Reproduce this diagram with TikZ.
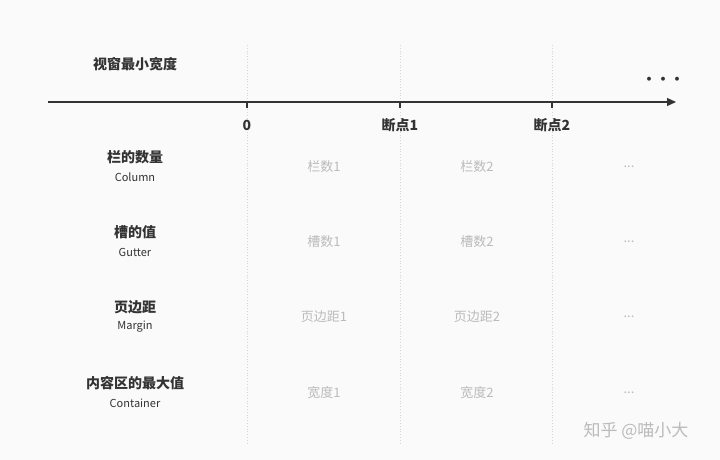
\documentclass[tikz,border=0pt]{standalone}
\usepackage{fontspec}
\setmainfont{Noto Sans CJK SC}
\usetikzlibrary{arrows.meta}
\definecolor{bg}{HTML}{FAFAFA}
\definecolor{ink}{HTML}{333333}
\definecolor{faint}{HTML}{BBBBBB}
\definecolor{grid}{HTML}{D6D6D6}
\begin{document}
\begin{tikzpicture}[x=1pt,y=-1pt,
    head/.style={font=\fontsize{14}{16}\selectfont\bfseries, text=ink},
    sub/.style={font=\fontsize{11}{13}\selectfont, text=ink},
    cell/.style={font=\fontsize{13}{15}\selectfont, text=faint},
    brk/.style={font=\fontsize{14}{16}\selectfont\bfseries, text=ink}]
  \fill[bg] (0,0) rectangle (720,460);
  \useasboundingbox (0,0) rectangle (720,460);
  % vertical guides
  \foreach \x/\n in {247/p0,400/p1,552/p2} {
    \coordinate (\n top) at (\x,45);
    \coordinate (\n bot) at (\x,445);
    \draw[grid, dotted, line width=0.8pt] (\n top) -- (\n bot);
    \coordinate (\n) at (\x,102);
    \draw[ink, line width=2.5pt] (\n) -- ++(0,6);
  }
  % axis
  \coordinate (start) at (48,102);
  \coordinate (end) at (676,102);
  \draw[ink, line width=1.2pt, -{Triangle[length=9pt,width=8pt]}] (start) -- (end);
  \node[head] (title) at (135,64) {视窗最小宽度};
  \node[brk] (more) at (663,81) {···};
  \node[brk] (l0) at (247,125) {0};
  \node[brk] (l1) at (400,125) {断点1};
  \node[brk] (l2) at (552,125) {断点2};
  % rows
  \foreach \y/\a/\b/\c/\d [count=\i] in {157/栏的数量/Column/栏数1/栏数2,
      232/槽的值/Gutter/槽数1/槽数2,
      307/页边距/Margin/页边距1/页边距2,
      383/内容区的最大值/Container/宽度1/宽度2} {
    \node[head] (r\i) at (135,\y) {\a};
    \node[sub] (s\i) at (135,\y+20) {\b};
    \node[cell] (c\i a) at (324,\y+10) {\c};
    \node[cell] (c\i b) at (477,\y+10) {\d};
    \node[cell] (c\i c) at (629,\y+10) {...};
  }
  \node[font=\fontsize{17}{19}\selectfont, text=faint] (mark) at (636,431) {知乎 @喵小大};
\end{tikzpicture}
\end{document}
